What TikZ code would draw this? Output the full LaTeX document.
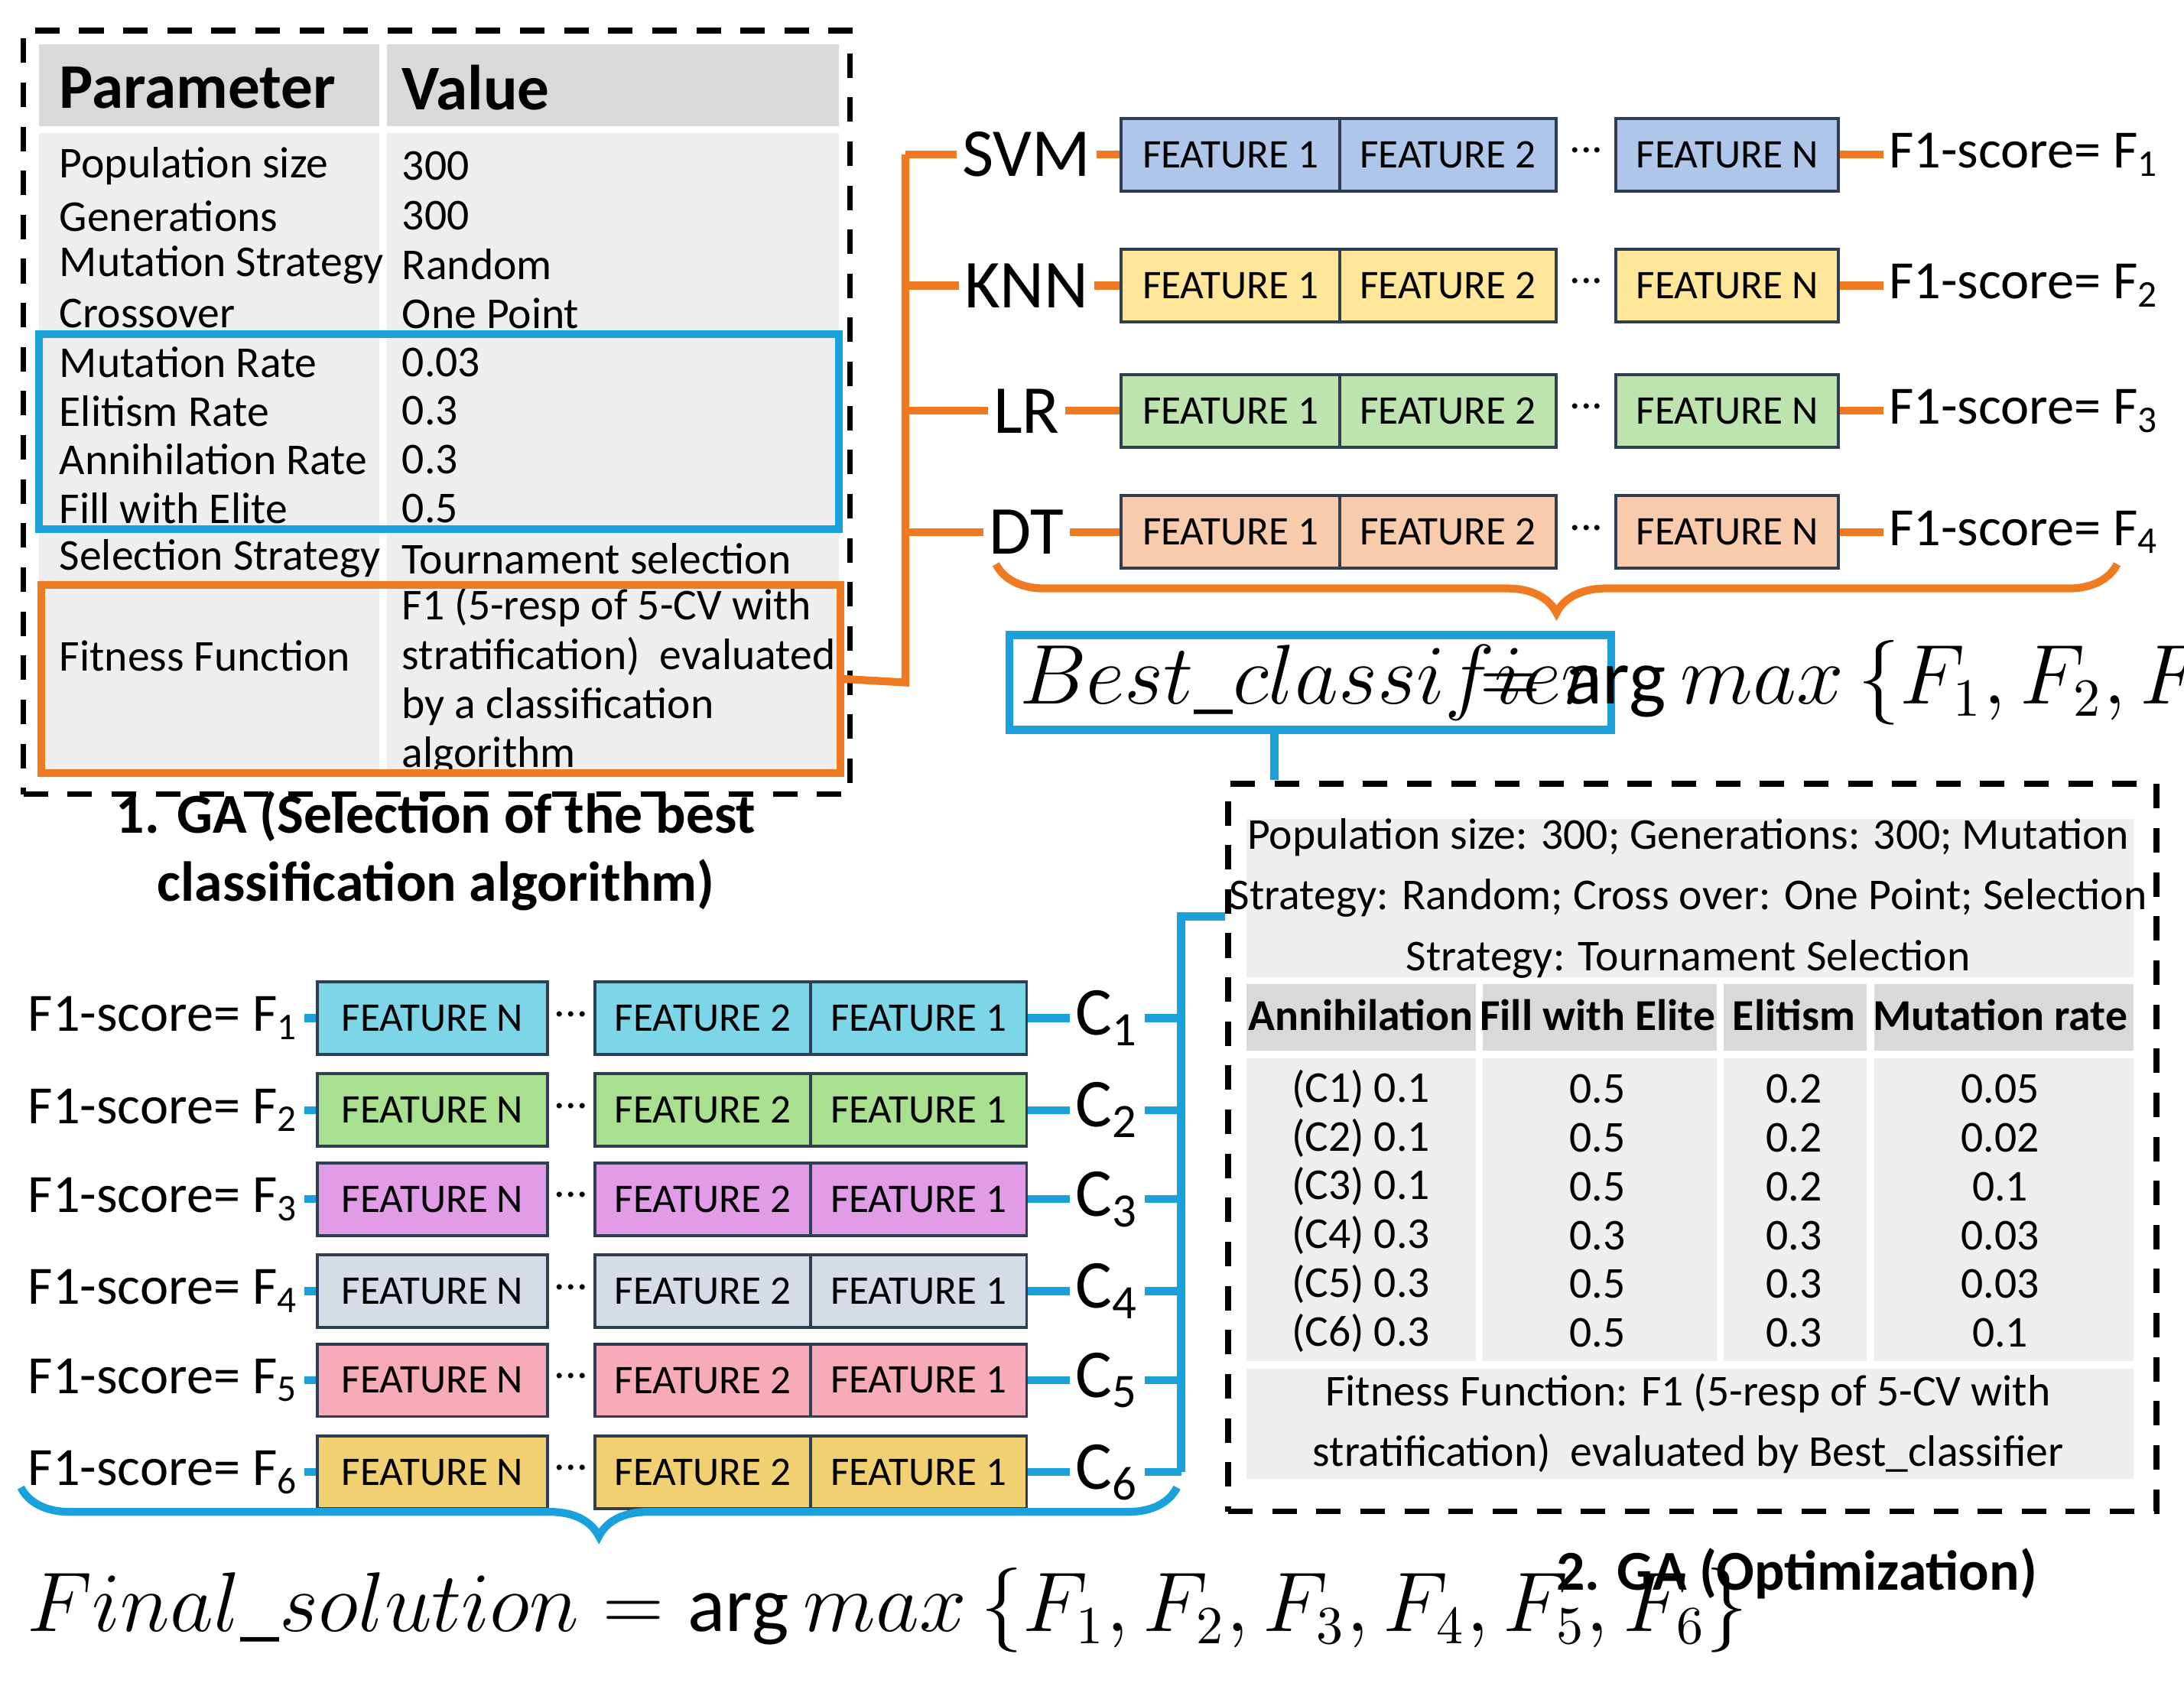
\documentclass[tikz,border=0pt]{standalone}
\usepackage{fontspec}
\setmainfont{Carlito}
\usetikzlibrary{decorations.pathreplacing}
\definecolor{org}{HTML}{F07A22}
\definecolor{blu}{HTML}{1AA0DA}
\definecolor{gbg}{HTML}{EEEEEE}
\definecolor{ghd}{HTML}{D9D9D9}
\definecolor{edg}{HTML}{2F3E55}
\definecolor{cA}{HTML}{AEC6EA}\definecolor{cB}{HTML}{FFE699}\definecolor{cC}{HTML}{BDE3AE}\definecolor{cD}{HTML}{F8CBAD}
\definecolor{bA}{HTML}{7DD5E8}\definecolor{bB}{HTML}{A9E08F}\definecolor{bC}{HTML}{E29BE6}\definecolor{bD}{HTML}{D6DCE5}\definecolor{bE}{HTML}{F7AAB8}\definecolor{bF}{HTML}{F0D070}
\tikzset{
 txt/.style={font=\fontsize{9}{10}\selectfont,inner sep=0pt},
 feat/.style={draw=edg,line width=0.6pt,minimum height=0.52cm,inner sep=0pt,font=\fontsize{8.3}{9}\selectfont},
 cls/.style={font=\fontsize{14}{15}\selectfont,inner sep=1pt},
 sc/.style={font=\fontsize{11}{12}\selectfont,inner sep=1pt},
 oc/.style={draw=org,line width=1.6pt},
 bc/.style={draw=blu,line width=1.6pt},
 dsh/.style={draw,line width=1.2pt,dash pattern=on 5pt off 4pt},
 captxt/.style={font=\bfseries\fontsize{11.5}{14}\selectfont,align=center},
 frm/.style={font=\fontsize{16}{18}\selectfont,inner sep=2pt},
 brc/.style={line width=1.6pt,decorate,decoration={brace,mirror,amplitude=0.35cm}}
}
\begin{document}
\begin{tikzpicture}[x=0.01cm,y=-0.01cm]
\useasboundingbox (0,0) rectangle (1568,1208);
% ---------- Table 1
\node[dsh,minimum width=5.93cm,minimum height=5.48cm,inner sep=0pt] (t1) at (313.5,296) {};
\fill[gbg] (28,32) rectangle (602,555);
\fill[ghd] (28,32) rectangle (602,92);
\draw[white,line width=1.5pt] (275,32)--(275,555) (28,93)--(602,93);
\node[txt,anchor=west,font=\bfseries\fontsize{13}{14}\selectfont] (h1) at (42,63) {Parameter};
\node[txt,anchor=west,font=\bfseries\fontsize{13}{14}\selectfont] (h2) at (288,63) {Value};
\foreach \n/\a/\b/\y in {1/Population size/300/119,2/Generations/300/155,3/Mutation Strategy/Random/190,4/Crossover/One Point/225,5/Mutation Rate/0.03/260,6/Elitism Rate/0.3/295,7/Annihilation Rate/0.3/330,8/Fill with Elite/0.5/365,9/Selection Strategy/Tournament selection/401}{
 \node[txt,anchor=west] (p\n) at (42,\y) {\a};
 \node[txt,anchor=west] (v\n) at (288,\y) {\b};}
\node[txt,anchor=west] (pf) at (42,471) {Fitness Function};
\node[txt,anchor=west,align=left,font=\fontsize{9}{10}\selectfont] (vf) at (288,489) {F1 (5-resp of 5-CV with\\[0.1pt]stratification)\ \ evaluated\\by a classification\\algorithm};
\node[bc,minimum width=5.74cm,minimum height=1.4cm,inner sep=0pt] (bb) at (315,310) {};
\node[oc,minimum width=5.73cm,minimum height=1.35cm,inner sep=0pt] (ob) at (316.5,487.5) {};
\node[captxt] (cap1) at (313,611) {1. GA (Selection of the best\\classification algorithm)};
% ---------- top classifiers
\foreach \i/\lab/\y/\fc in {1/SVM/111/cA,2/KNN/205/cB,3/LR/295/cC,4/DT/382/cD}{
 \node[cls] (cl\i) at (737,\y) {\lab};
 \node[feat,fill=\fc,minimum width=1.57cm] (a\i) at (883.5,\y) {FEATURE 1};
 \node[feat,fill=\fc,minimum width=1.55cm] (b\i) at (1039.5,\y) {FEATURE 2};
 \node[txt] (d\i) at (1139,\y-3) {...};
 \node[feat,fill=\fc,minimum width=1.6cm] (n\i) at (1240,\y) {FEATURE N};
 \node[sc,anchor=west] (f\i) at (1352,\y) {F1-score= F\textsubscript{\i}};
 \coordinate (j\i) at (650,\y);
 \draw[oc] (j\i)--(cl\i.west);
 \draw[oc] (cl\i.east)--(a\i.west);
 \draw[oc] (n\i.east)--(f\i.west);
}
\coordinate (jo) at (650,490);
\draw[oc] (ob.east)--(jo)--(j1);
% orange brace
\coordinate (br1) at (715,405); \coordinate (br2) at (1520,405);
\draw[org,brc] (br1)--(br2);
% best classifier
\node[frm,bc,anchor=west,minimum height=0.52cm] (bcl) at (722,490) {$Best\_classifier$};
\node[frm,anchor=west] (am1) at (1055,490) {$=\arg max\,\{F_1,F_2,F_3,F_4\}$};
% ---------- Table 2
\node[dsh,minimum width=6.66cm,minimum height=5.22cm,inner sep=0pt] (t2) at (1215,824) {};
\fill[gbg] (895,588) rectangle (1532,1062);
\fill[ghd] (895,705) rectangle (1532,755);
\draw[white,line width=1.5pt] (895,704)--(1532,704) (895,757)--(1532,757) (895,980)--(1532,980)
 (1062,705)--(1062,980) (1235,705)--(1235,980) (1343,705)--(1343,980);
\node[txt,align=center,font=\fontsize{9}{12.4}\selectfont] (top2) at (1212,645) {Population size: 300; Generations: 300; Mutation\\Strategy: Random; Cross over: One Point; Selection\\Strategy: Tournament Selection};
\foreach \n/\t/\x in {1/Annihilation/977,2/Fill with Elite/1147,3/Elitism/1288,4/Mutation rate/1436}
 \node[txt,font=\bfseries\fontsize{9}{10}\selectfont] (hh\n) at (\x,729) {\t};
\foreach \n/\a/\b/\c/\d/\y in {1/0.1/0.5/0.2/0.05/782,2/0.1/0.5/0.2/0.02/817,3/0.1/0.5/0.2/0.1/852,4/0.3/0.3/0.3/0.03/887,5/0.3/0.5/0.3/0.03/922,6/0.3/0.5/0.3/0.1/957}{
 \node[txt] (ra\n) at (977,\y) {(C\n) \a};
 \node[txt] (rb\n) at (1147,\y) {\b};
 \node[txt] (rc\n) at (1288,\y) {\c};
 \node[txt] (rd\n) at (1436,\y) {\d};}
\node[txt,align=center,font=\fontsize{9}{12.4}\selectfont] (ff2) at (1212,1022) {Fitness Function: F1 (5-resp of 5-CV with\\stratification)\ \ evaluated by Best\_classifier};
\node[captxt] (cap2) at (1290,1130) {2. GA (Optimization)};
\coordinate (bt) at (915,560);
\draw[bc] (bcl.south-|bt)--(bt);
% ---------- bottom rows
\foreach \i/\y/\fc in {1/731/bA,2/797/bB,3/861/bC,4/927/bD,5/991/bE,6/1057/bF}{
 \node[sc,anchor=west] (g\i) at (16,\y) {F1-score= F\textsubscript{\i}};
 \node[feat,fill=\fc,minimum width=1.65cm] (m\i) at (310.5,\y) {FEATURE N};
 \node[txt] (e\i) at (410,\y-3) {...};
 \node[feat,fill=\fc,minimum width=1.55cm] (s\i) at (504.5,\y) {FEATURE 2};
 \node[feat,fill=\fc,minimum width=1.55cm] (r\i) at (659.5,\y) {FEATURE 1};
 \node[cls] (c\i) at (795,\y) {C\textsubscript{\i}};
 \coordinate (k\i) at (848,\y);
 \draw[bc] (g\i.east)--(m\i.west);
 \draw[bc] (r\i.east)--(c\i.west);
 \draw[bc] (c\i.east)--(k\i);
}
\coordinate (kt) at (848,658);
\draw[bc] (k6)--(kt)--(t2.west|-kt);
\coordinate (bq1) at (15,1068); \coordinate (bq2) at (845,1068);
\draw[blu,brc] (bq1)--(bq2);
\node[frm,anchor=west] (fs) at (12,1156) {$Final\_solution=\arg max\,\{F_1,F_2,F_3,F_4,F_5,F_6\}$};
\end{tikzpicture}
\end{document}
